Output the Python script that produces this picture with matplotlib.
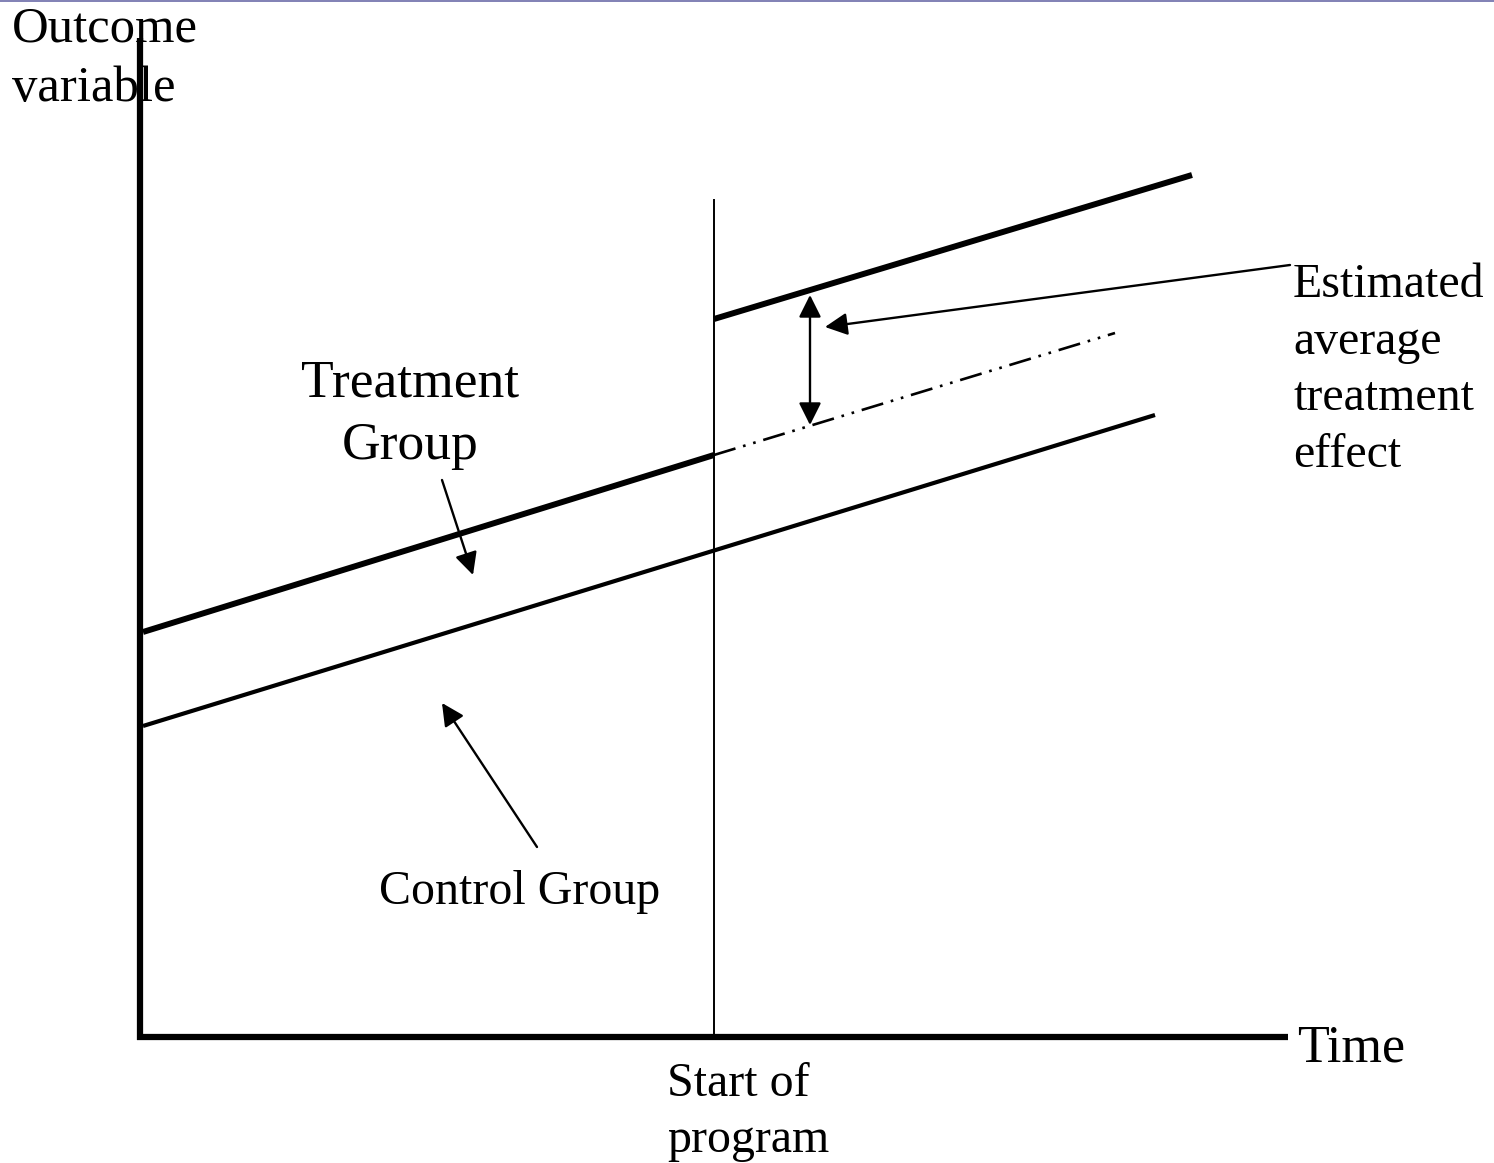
import matplotlib.pyplot as plt
from matplotlib.lines import Line2D

plt.rcParams['font.family'] = ['Liberation Serif', 'DejaVu Serif']

# diagram geometry, in picture units (x right, y down)
axis_origin = (140, 1037)
y_axis_top = 38
x_axis_right = 1288

program_start = 714
program_line_top = 200

treatment_pre_x = [143, 714]
treatment_pre_y = [632, 455]
treatment_post_x = [714, 1192]
treatment_post_y = [319, 175]
counterfactual_x = [714, 1115]
counterfactual_y = [455, 333]
control_x = [143, 1155]
control_y = [726, 415]

effect_x = 810
effect_y = [295, 425]

fig = plt.figure(figsize=(14.94, 11.63), dpi=100)
ax = fig.add_axes([0, 0, 1, 1])
ax.set_xlim(0, 1494)
ax.set_ylim(1163, 0)
ax.axis('off')

# thin rule at the very top
fig.add_artist(Line2D([0, 1], [0.9995, 0.9995], color='#6b6ba8', lw=1.2))

# axes of the diagram
ox, oy = axis_origin
ax.plot([ox, ox], [oy + 3, y_axis_top], color='black', lw=4.5, solid_capstyle='butt')
ax.plot([ox - 3, x_axis_right], [oy, oy], color='black', lw=4.5, solid_capstyle='butt')

# start of program
ax.plot([program_start, program_start], [oy, program_line_top], color='black', lw=1.4)

# groups
ax.plot(treatment_pre_x, treatment_pre_y, color='black', lw=4.3, solid_capstyle='butt')
ax.plot(treatment_post_x, treatment_post_y, color='black', lw=4.3, solid_capstyle='butt')
ax.plot(control_x, control_y, color='black', lw=3.0, solid_capstyle='butt')
ax.plot(counterfactual_x, counterfactual_y, color='black', lw=1.9,
        linestyle=(0, (8.5, 3, 1, 3, 1, 3)))

arrow_style = dict(color='black', lw=1.7, mutation_scale=34, shrinkA=0, shrinkB=0)

# treatment effect double arrow
ax.annotate('', xy=(effect_x, effect_y[0]), xytext=(effect_x, effect_y[1]),
            arrowprops=dict(arrowstyle='<|-|>', **arrow_style))

# labels with pointers
ax.annotate('', xy=(825, 327), xytext=(1290, 265),
            arrowprops=dict(arrowstyle='-|>', **arrow_style))
ax.annotate('', xy=(473, 575), xytext=(442, 480),
            arrowprops=dict(arrowstyle='-|>', **arrow_style))
ax.annotate('', xy=(442, 703), xytext=(537, 847),
            arrowprops=dict(arrowstyle='-|>', **arrow_style))

ax.text(12, 59, 'Outcome\nvariable', fontsize=36.5, va='center', ha='left', linespacing=1.36)
ax.text(410, 415, 'Treatment\nGroup', fontsize=38.5, va='center', ha='center', linespacing=1.38)
ax.text(520, 892, 'Control Group', fontsize=34.5, va='center', ha='center')
ax.text(1293, 370, 'Estimated\naverage\ntreatment\neffect', fontsize=34.5, va='center',
        ha='left', linespacing=1.37)
ax.text(1297, 1048, 'Time', fontsize=37.5, va='center', ha='left')
ax.text(667, 1112, 'Start of\nprogram', fontsize=34.5, va='center', ha='left', linespacing=1.36)

fig.savefig('out.png', dpi=100, facecolor='white')
